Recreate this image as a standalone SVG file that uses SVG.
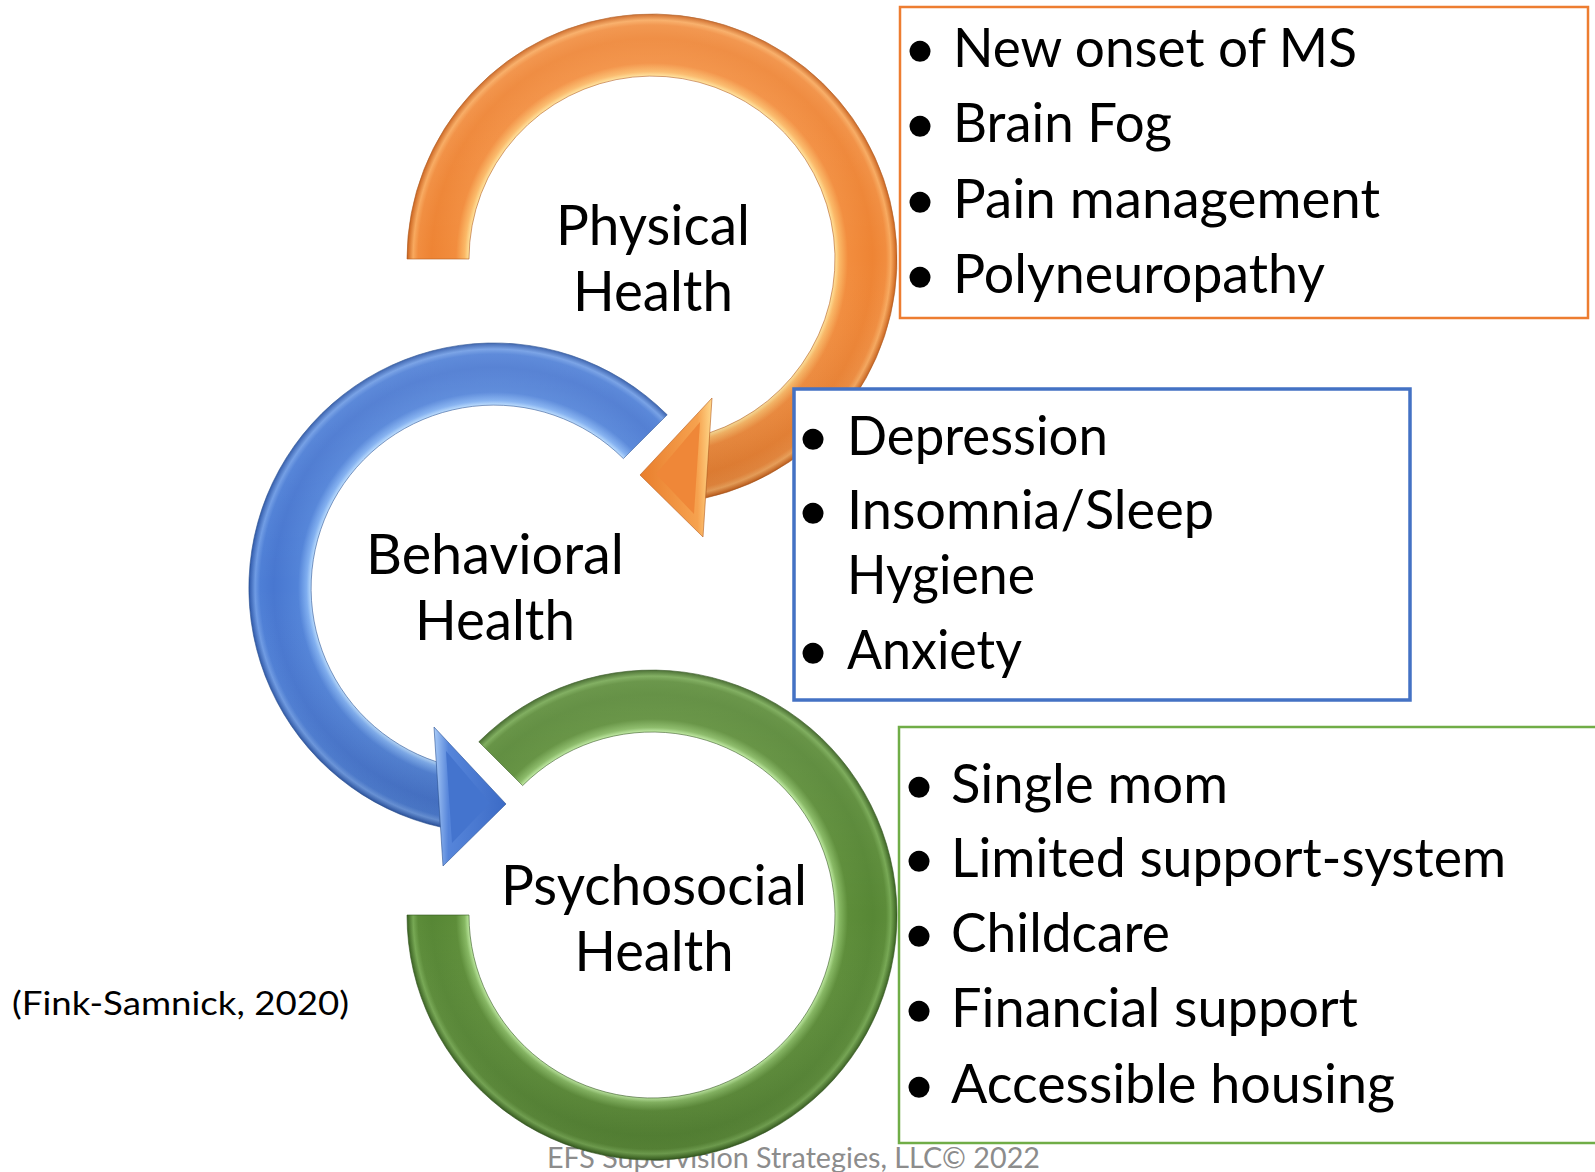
<svg xmlns="http://www.w3.org/2000/svg" width="1595" height="1172" viewBox="0 0 1595 1172">
<defs>
<style>
.lbl{font-family:Lato,"Open Sans","Liberation Sans",sans-serif;font-size:57px;fill:#000;text-anchor:middle}
.itm{font-family:Lato,"Open Sans","Liberation Sans",sans-serif;font-size:55px;fill:#000}
.bul{font-family:"Liberation Sans","DejaVu Sans",sans-serif;font-size:49px;fill:#000;text-anchor:middle}
.box{fill:#fff}
.edgeO{stroke:#B65E1F;stroke-width:1;stroke-opacity:.6}
.edgeB{stroke:#2C5396;stroke-width:1;stroke-opacity:.6}
.edgeG{stroke:#34561F;stroke-width:1;stroke-opacity:.6}
</style>
<radialGradient id="gO" gradientUnits="userSpaceOnUse" cx="652" cy="259" r="245">
<stop offset="0.745" stop-color="#FFE7A0"/><stop offset="0.765" stop-color="#FBB866"/><stop offset="0.80" stop-color="#F28D3E"/><stop offset="0.90" stop-color="#EE8434"/><stop offset="0.955" stop-color="#F18D3F"/><stop offset="0.975" stop-color="#F8A95E"/><stop offset="0.995" stop-color="#D36E27"/><stop offset="1" stop-color="#B85E20"/>
</radialGradient>
<radialGradient id="gB" gradientUnits="userSpaceOnUse" cx="494" cy="588" r="245">
<stop offset="0.745" stop-color="#BFE0FF"/><stop offset="0.765" stop-color="#7FAEF0"/><stop offset="0.80" stop-color="#5283D8"/><stop offset="0.90" stop-color="#4877D0"/><stop offset="0.955" stop-color="#4E7FD6"/><stop offset="0.975" stop-color="#6E9BE4"/><stop offset="0.995" stop-color="#3A65B5"/><stop offset="1" stop-color="#2E56A0"/>
</radialGradient>
<radialGradient id="gG" gradientUnits="userSpaceOnUse" cx="652" cy="915" r="245">
<stop offset="0.745" stop-color="#C5F0A8"/><stop offset="0.765" stop-color="#86B862"/><stop offset="0.80" stop-color="#5D8D39"/><stop offset="0.90" stop-color="#578735"/><stop offset="0.955" stop-color="#5C8C39"/><stop offset="0.975" stop-color="#76A853"/><stop offset="0.995" stop-color="#456F2A"/><stop offset="1" stop-color="#385D22"/>
</radialGradient>
<linearGradient id="shade" x1="0" y1="0" x2="0" y2="1">
<stop offset="0" stop-color="#fff" stop-opacity="0.10"/><stop offset="0.5" stop-color="#fff" stop-opacity="0"/><stop offset="1" stop-color="#000" stop-opacity="0.10"/>
</linearGradient>
<linearGradient id="hO" x1="1" y1="0" x2="0" y2="0">
<stop offset="0" stop-color="#FFD88A"/><stop offset="0.2" stop-color="#F6A24F"/><stop offset="1" stop-color="#E97E2D"/>
</linearGradient>
<linearGradient id="hB" x1="0" y1="0" x2="1" y2="0">
<stop offset="0" stop-color="#A9CBF7"/><stop offset="0.2" stop-color="#5685DA"/><stop offset="1" stop-color="#3C6BC6"/>
</linearGradient>
</defs>
<rect width="1595" height="1172" fill="#fff"/>

<g id="footer">
<text x="547" y="1168" font-family="Lato,'Open Sans',sans-serif" font-size="29" fill="#8C8C8C" textLength="493" lengthAdjust="spacingAndGlyphs">EFS Supervision Strategies, LLC© 2022</text>
</g>

<g id="node-psychosocial-ring">
<path d="M478.8,741.8 A245,245 0 1 1 407,915 L469,915 A183,183 0 1 0 522.6,785.6 Z" fill="url(#gG)" class="edgeG"/>
<path d="M478.8,741.8 A245,245 0 1 1 407,915 L469,915 A183,183 0 1 0 522.6,785.6 Z" fill="url(#shade)"/>
</g>

<g id="node-behavioral-ring">
<path d="M667.2,414.8 A245,245 0 1 0 440.6,827.1 L436.8,761.9 A183,183 0 1 1 623.4,458.6 Z" fill="url(#gB)" class="edgeB"/>
<path d="M667.2,414.8 A245,245 0 1 0 440.6,827.1 L436.8,761.9 A183,183 0 1 1 623.4,458.6 Z" fill="url(#shade)"/>
</g>

<g id="node-physical-ring">
<path d="M407,259 A245,245 0 1 1 705.4,498.1 L709.2,432.9 A183,183 0 1 0 469,259 Z" fill="url(#gO)" class="edgeO"/>
<path d="M407,259 A245,245 0 1 1 705.4,498.1 L709.2,432.9 A183,183 0 1 0 469,259 Z" fill="url(#shade)"/>
</g>

<g id="connectors">
<g id="arrow-physical-to-behavioral">
<polygon points="712,398 640,475 703,537" fill="url(#hO)" class="edgeO"/>
<polygon points="700,422 656,474 694,514" fill="#EF8738"/>
</g>
<g id="arrow-behavioral-to-psychosocial">
<polygon points="434,727 506,804 443,866" fill="url(#hB)" class="edgeB"/>
<polygon points="446,751 490,803 452,843" fill="#4474CE"/>
</g>
</g>

<g id="node-physical-label">
<text class="lbl" x="653" y="245" textLength="194" lengthAdjust="spacingAndGlyphs">Physical</text>
<text class="lbl" x="653" y="311" textLength="160" lengthAdjust="spacingAndGlyphs">Health</text>
</g>
<g id="node-behavioral-label">
<text class="lbl" x="495" y="574" textLength="258" lengthAdjust="spacingAndGlyphs">Behavioral</text>
<text class="lbl" x="495" y="640" textLength="160" lengthAdjust="spacingAndGlyphs">Health</text>
</g>
<g id="node-psychosocial-label">
<text class="lbl" x="654" y="905" textLength="306" lengthAdjust="spacingAndGlyphs">Psychosocial</text>
<text class="lbl" x="654" y="971" textLength="159" lengthAdjust="spacingAndGlyphs">Health</text>
</g>

<g id="box-physical">
<rect class="box" x="900" y="7" width="688" height="311" stroke="#ED7D31" stroke-width="2.5"/>
<text class="bul" x="920" y="65">●</text>
<text class="itm" x="953" y="67" textLength="404" lengthAdjust="spacingAndGlyphs">New onset of MS</text>
<text class="bul" x="920" y="140">●</text>
<text class="itm" x="953" y="142" textLength="219" lengthAdjust="spacingAndGlyphs">Brain Fog</text>
<text class="bul" x="920" y="216">●</text>
<text class="itm" x="953" y="218" textLength="427" lengthAdjust="spacingAndGlyphs">Pain management</text>
<text class="bul" x="920" y="291">●</text>
<text class="itm" x="953" y="293" textLength="372" lengthAdjust="spacingAndGlyphs">Polyneuropathy</text>
</g>

<g id="box-behavioral">
<rect class="box" x="794" y="389" width="616" height="311" stroke="#4472C4" stroke-width="3.5"/>
<text class="bul" x="813" y="453">●</text>
<text class="itm" x="847" y="455" textLength="261" lengthAdjust="spacingAndGlyphs">Depression</text>
<text class="bul" x="813" y="527">●</text>
<text class="itm" x="847" y="529" textLength="367" lengthAdjust="spacingAndGlyphs">Insomnia/Sleep</text>
<text class="itm" x="847" y="594" textLength="188" lengthAdjust="spacingAndGlyphs">Hygiene</text>
<text class="bul" x="813" y="667">●</text>
<text class="itm" x="847" y="669" textLength="175" lengthAdjust="spacingAndGlyphs">Anxiety</text>
</g>

<g id="box-psychosocial">
<rect class="box" x="899" y="727" width="710" height="416" stroke="#70AD47" stroke-width="2.5"/>
<text class="bul" x="919" y="801">●</text>
<text class="itm" x="951" y="803" textLength="277" lengthAdjust="spacingAndGlyphs">Single mom</text>
<text class="bul" x="919" y="875">●</text>
<text class="itm" x="951" y="877" textLength="555" lengthAdjust="spacingAndGlyphs">Limited support-system</text>
<text class="bul" x="919" y="950">●</text>
<text class="itm" x="951" y="952" textLength="219" lengthAdjust="spacingAndGlyphs">Childcare</text>
<text class="bul" x="919" y="1025">●</text>
<text class="itm" x="951" y="1027" textLength="407" lengthAdjust="spacingAndGlyphs">Financial support</text>
<text class="bul" x="919" y="1101">●</text>
<text class="itm" x="951" y="1103" textLength="444" lengthAdjust="spacingAndGlyphs">Accessible housing</text>
</g>

<g id="citation">
<text x="12" y="1015" font-family="Lato,'Open Sans',sans-serif" font-size="33" fill="#000" textLength="337" lengthAdjust="spacingAndGlyphs">(Fink-Samnick, 2020)</text>
</g>
</svg>
